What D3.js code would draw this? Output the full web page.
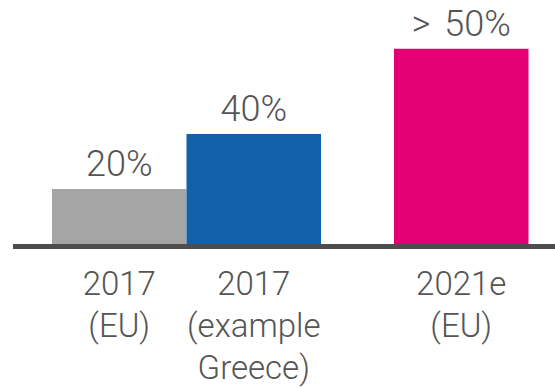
<!DOCTYPE html>
<html>
<head>
<meta charset="utf-8">
<script src="https://cdn.jsdelivr.net/npm/d3@7"></script>
<style>
  html, body { margin: 0; padding: 0; background: #fff; }
  svg { display: block; }
  text { font-family: Roboto, "Liberation Sans", sans-serif; font-weight: 300; fill: #555; }
</style>
</head>
<body>
<svg id="chart" width="555" height="389"></svg>
<script>
// Share of the market, by period
const categories = ["2017 (EU)", "2017 (example Greece)", "2021e (EU)"];
const categoryLines = [["2017", "(EU)"], ["2017", "(example", "Greece)"], ["2021e", "(EU)"]];
const values = [20, 40, 71];
const valueLabels = ["20%", "40%", "> 50%"];
const colors = ["#a5a5a5", "#1060aa", "#e20074"];

const svg = d3.select("#chart");
const baseY = 244;

// Bars sit side by side for 2017, with a gap before the 2021 estimate
const x = d3.scaleOrdinal().domain(categories).range([52, 186.5, 394]);
const barW = 134.5;
const y = d3.scaleLinear().domain([0, 80]).range([baseY, baseY - 80 * 2.75]);

const g = svg.append("g");

g.selectAll("rect.bar")
  .data(categories)
  .join("rect")
  .attr("class", "bar")
  .attr("x", d => x(d))
  .attr("width", barW)
  .attr("y", (d, i) => y(values[i]))
  .attr("height", (d, i) => y(0) - y(values[i]))
  .attr("fill", (d, i) => colors[i]);

// Value labels above each bar
g.selectAll("text.value")
  .data(categories)
  .join("text")
  .attr("class", "value")
  .attr("x", d => x(d) + barW / 2)
  .attr("y", (d, i) => y(values[i]) - 13)
  .attr("text-anchor", "middle")
  .attr("font-size", 36)
  .style("word-spacing", "5px")
  .text((d, i) => valueLabels[i]);

// Baseline
g.append("rect")
  .attr("x", 13)
  .attr("y", y(0))
  .attr("width", 555 - 13)
  .attr("height", 5)
  .attr("fill", "#4d4d4d");

// Category labels below the baseline
const labels = g.selectAll("text.cat")
  .data(categories)
  .join("text")
  .attr("class", "cat")
  .attr("text-anchor", "middle")
  .attr("font-size", 33);

labels.selectAll("tspan")
  .data((d, i) => categoryLines[i].map(t => ({ t, cx: x(d) + barW / 2 })))
  .join("tspan")
  .attr("x", d => d.cx)
  .attr("y", (d, j) => 295 + j * 42)
  .text(d => d.t);
</script>
</body>
</html>
